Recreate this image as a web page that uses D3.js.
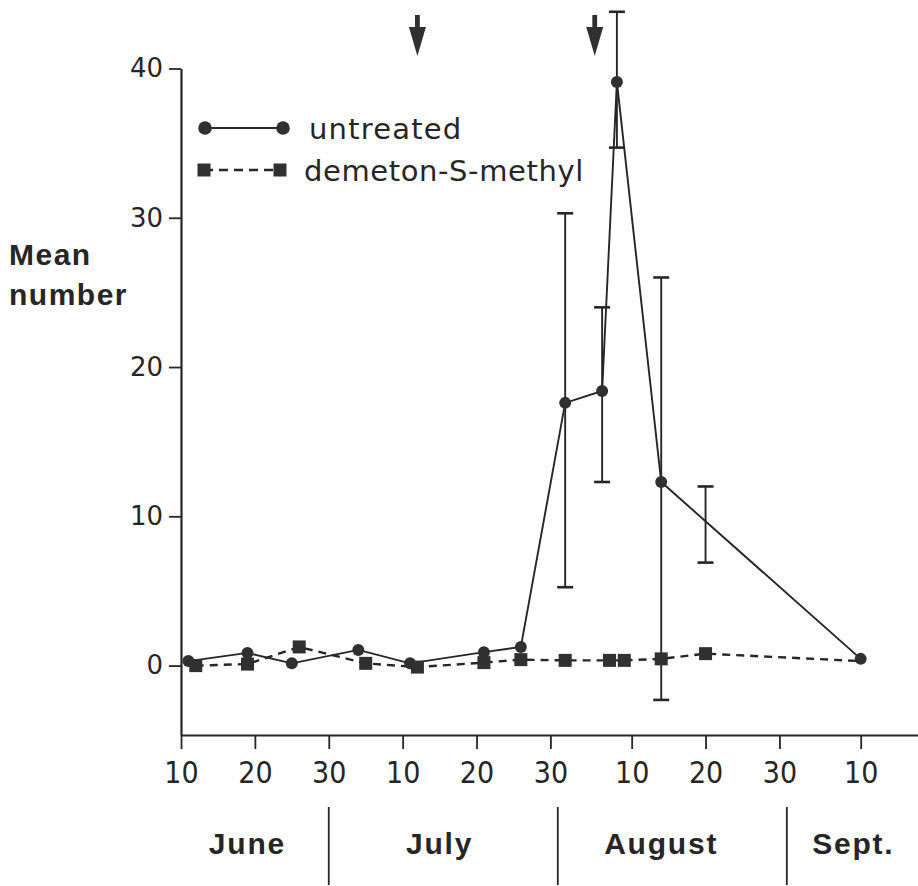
<!DOCTYPE html>
<html>
<head>
<meta charset="utf-8">
<script src="https://cdn.jsdelivr.net/npm/d3@7"></script>
<style>
body { margin: 0; background: #fff; }
svg { display: block; }
</style>
</head>
<body>
<div id="chart"></div>
<script>
// data (year is arbitrary, only the calendar matters)
var untreatedDates = ["06-11","06-19","06-25","07-04","07-11","07-21","07-26","08-01","08-06","08-08","08-14","09-10"];
var untreatedMean  = [0.3, 0.85, 0.15, 1.05, 0.15, 0.9, 1.25, 17.6, 18.4, 39.1, 12.3, 0.45];

var demetonDates = ["06-12","06-19","06-26","07-05","07-12","07-21","07-26","08-01","08-07","08-09","08-14","08-20","09-10"];
var demetonMean  = [0.0, 0.1, 1.25, 0.15, -0.1, 0.2, 0.4, 0.35, 0.35, 0.35, 0.45, 0.8, 0.3];

var errDates = ["08-01","08-06","08-08","08-14","08-20"];
var errLow   = [5.25, 12.3, 34.7, -2.3, 6.9];
var errHigh  = [30.3, 24.0, 43.8, 26.0, 12.0];

var sprayDates = ["07-12","08-05"];

var xTickDates = ["06-10","06-20","06-30","07-10","07-20","07-30","08-10","08-20","08-30","09-10"];
var yTicks = [0, 10, 20, 30, 40];
var monthNames = ["June","July","August","Sept."];
var monthLabelDates = ["06-19","07-15","08-14","09-09"];
var monthEnds = ["06-30","07-31","08-31"];

var parse = function(s){ return d3.utcParse("%Y-%m-%d")("1975-" + s); };

var W = 918, H = 886;
var ink = "#262626";
var markInk = "#303030";

var svg = d3.select("#chart").append("svg")
	.attr("width", W)
	.attr("height", H);

var x = d3.scaleUtc()
	.domain([parse("06-10"), parse("09-18")])
	.range([181, 181 + 100 * 7.388]);

var y = d3.scaleLinear()
	.domain([-4.65, 40])
	.range([735, 68.5]);

// axes
var xAxis = d3.axisBottom(x)
	.tickValues(xTickDates.map(parse))
	.tickFormat(d3.utcFormat("%-d"))
	.tickSize(14)
	.tickSizeOuter(0)
	.tickPadding(13);

var gx = svg.append("g")
	.attr("transform", "translate(0," + y.range()[0] + ")")
	.call(xAxis);
gx.select(".domain").attr("stroke", ink).attr("stroke-width", 2.2);
gx.selectAll(".tick line").attr("stroke", ink).attr("stroke-width", 1.8);
gx.selectAll(".tick text")
	.attr("fill", ink)
	.style("font-family", "'Liberation Sans Narrow','DejaVu Sans Condensed',sans-serif")
	.style("font-size", "30px");

var yAxis = d3.axisLeft(y)
	.tickValues(yTicks)
	.tickSize(12)
	.tickSizeOuter(0)
	.tickPadding(6);

var gy = svg.append("g")
	.attr("transform", "translate(" + x.range()[0] + ",0)")
	.call(yAxis);
gy.select(".domain").attr("stroke", ink).attr("stroke-width", 2.2);
gy.selectAll(".tick line").attr("stroke", ink).attr("stroke-width", 1.8);
gy.selectAll(".tick text")
	.attr("fill", ink)
	.style("font-family", "'DejaVu Sans',sans-serif")
	.style("font-size", "26px");

// y label
var ylab = svg.append("text")
	.attr("fill", ink)
	.style("font-family", "'Liberation Sans',Arial,sans-serif")
	.style("font-weight", "bold")
	.style("font-size", "30px")
	.style("letter-spacing", "1.5px");
ylab.append("tspan").attr("x", 9).attr("y", 265).text("Mean");
ylab.append("tspan").attr("x", 9).attr("y", 305).text("number");

// month separators and names
svg.selectAll("line.sep")
	.data(monthEnds)
	.enter().append("line")
	.attr("class", "sep")
	.attr("x1", function(d){ return x(parse(d)); })
	.attr("x2", function(d){ return x(parse(d)); })
	.attr("y1", 807).attr("y2", 885)
	.attr("stroke", ink).attr("stroke-width", 1.8);

svg.selectAll("text.month")
	.data(monthNames)
	.enter().append("text")
	.attr("class", "month")
	.attr("x", function(d, i){ return x(parse(monthLabelDates[i])); })
	.attr("y", 854)
	.attr("text-anchor", "middle")
	.attr("fill", ink)
	.style("font-family", "'Liberation Sans',Arial,sans-serif")
	.style("font-weight", "bold")
	.style("font-size", "30px")
	.style("letter-spacing", "1.8px")
	.text(function(d){ return d; });

// spray arrows
var arrows = svg.selectAll("g.arrow")
	.data(sprayDates)
	.enter().append("g")
	.attr("class", "arrow")
	.attr("transform", function(d){ return "translate(" + x(parse(d)) + ",0)"; });
arrows.append("rect")
	.attr("x", -2.4).attr("y", 15).attr("width", 4.8).attr("height", 14)
	.attr("fill", markInk);
arrows.append("path")
	.attr("d", "M-8.5,27L8.5,27L0,56Z")
	.attr("fill", markInk);

// series
var untreated = untreatedDates.map(function(d, i){ return {date: parse(d), v: untreatedMean[i]}; });
var demeton = demetonDates.map(function(d, i){ return {date: parse(d), v: demetonMean[i]}; });
var errs = errDates.map(function(d, i){ return {date: parse(d), lo: errLow[i], hi: errHigh[i]}; });

var line = d3.line()
	.x(function(d){ return x(d.date); })
	.y(function(d){ return y(d.v); });

svg.append("path")
	.datum(demeton)
	.attr("d", line)
	.attr("fill", "none")
	.attr("stroke", ink)
	.attr("stroke-width", 2.4)
	.attr("stroke-dasharray", "8,6");

svg.append("path")
	.datum(untreated)
	.attr("d", line)
	.attr("fill", "none")
	.attr("stroke", ink)
	.attr("stroke-width", 1.9);

// error bars
var eb = svg.selectAll("g.err")
	.data(errs)
	.enter().append("g")
	.attr("class", "err")
	.attr("stroke", ink)
	.attr("stroke-width", 1.9);
eb.append("line")
	.attr("x1", function(d){ return x(d.date); })
	.attr("x2", function(d){ return x(d.date); })
	.attr("y1", function(d){ return y(d.lo); })
	.attr("y2", function(d){ return y(d.hi); });
eb.selectAll("line.cap")
	.data(function(d){ return [{date: d.date, v: d.lo}, {date: d.date, v: d.hi}]; })
	.enter().append("line")
	.attr("class", "cap")
	.attr("x1", function(d){ return x(d.date) - 8; })
	.attr("x2", function(d){ return x(d.date) + 8; })
	.attr("y1", function(d){ return y(d.v); })
	.attr("y2", function(d){ return y(d.v); })
	.attr("stroke-width", 2.6);

// markers (the last demeton point sits under the untreated circle)
svg.selectAll("rect.sq")
	.data(demeton.slice(0, -1))
	.enter().append("rect")
	.attr("class", "sq")
	.attr("x", function(d){ return x(d.date) - 6.5; })
	.attr("y", function(d){ return y(d.v) - 6.5; })
	.attr("width", 13).attr("height", 13)
	.attr("fill", markInk);

svg.selectAll("circle.pt")
	.data(untreated)
	.enter().append("circle")
	.attr("class", "pt")
	.attr("cx", function(d){ return x(d.date); })
	.attr("cy", function(d){ return y(d.v); })
	.attr("r", 6)
	.attr("fill", markInk);

// legend
var leg = svg.append("g");
leg.append("line")
	.attr("x1", 205).attr("x2", 283).attr("y1", 128).attr("y2", 128)
	.attr("stroke", ink).attr("stroke-width", 1.9);
leg.selectAll("circle")
	.data([205, 283])
	.enter().append("circle")
	.attr("cx", function(d){ return d; }).attr("cy", 128).attr("r", 6.8)
	.attr("fill", markInk);
leg.append("line")
	.attr("x1", 204).attr("x2", 280).attr("y1", 170).attr("y2", 170)
	.attr("stroke", ink).attr("stroke-width", 2.4)
	.attr("stroke-dasharray", "9,6");
leg.selectAll("rect")
	.data([204, 280])
	.enter().append("rect")
	.attr("x", function(d){ return d - 6.5; }).attr("y", 163.5)
	.attr("width", 13).attr("height", 13)
	.attr("fill", markInk);
leg.append("text")
	.attr("x", 309).attr("y", 139)
	.attr("fill", ink)
	.style("font-family", "'DejaVu Sans',sans-serif")
	.style("font-size", "29px")
	.style("letter-spacing", "1.2px")
	.text("untreated");
leg.append("text")
	.attr("x", 304).attr("y", 181)
	.attr("fill", ink)
	.style("font-family", "'DejaVu Sans',sans-serif")
	.style("font-size", "29px")
	.style("letter-spacing", "0.6px")
	.text("demeton-S-methyl");
</script>
</body>
</html>
